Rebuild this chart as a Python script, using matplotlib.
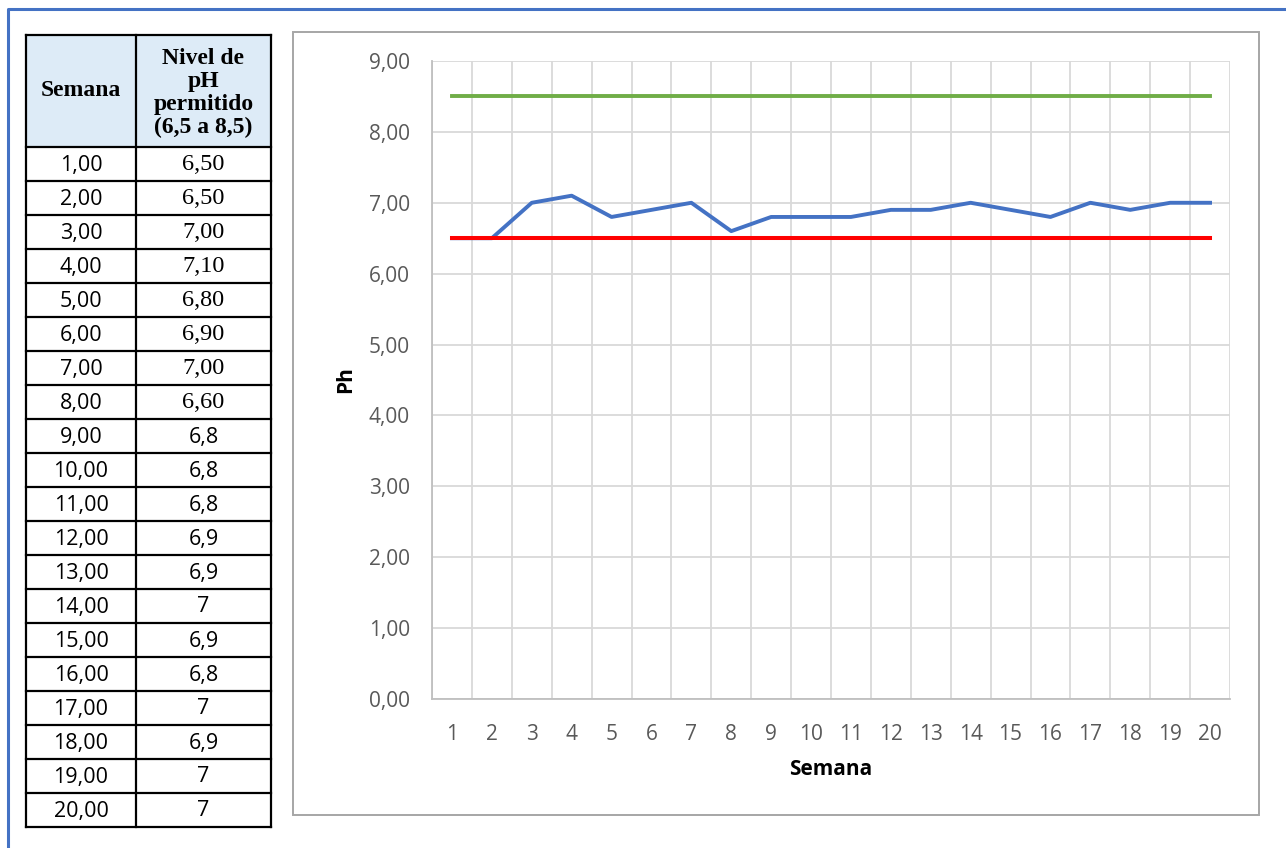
import matplotlib.pyplot as plt
from matplotlib.patches import Rectangle
from matplotlib.ticker import FuncFormatter, FixedLocator
import numpy as np

semanas = list(range(1, 21))
ph = [6.5, 6.5, 7.0, 7.1, 6.8, 6.9, 7.0, 6.6, 6.8, 6.8,
      6.8, 6.9, 6.9, 7.0, 6.9, 6.8, 7.0, 6.9, 7.0, 7.0]
limite_max = 8.5
limite_min = 6.5
filas_serif = 8  # las primeras filas de pH vienen en Times con dos decimales

sans = 'Open Sans'
serif = 'Liberation Serif'

W, H = 1286, 848
fig = plt.figure(figsize=(W / 100, H / 100), dpi=100)

# capa de fondo en pixeles para los marcos y la tabla
bg = fig.add_axes([0, 0, 1, 1])
bg.set_xlim(0, W)
bg.set_ylim(H, 0)
bg.axis('off')

# marco azul exterior
bg.plot([8, 8, W + 5], [H + 5, 9, 9], color='#4472C4', lw=2.2, solid_capstyle='butt')

# marco del grafico
bg.add_patch(Rectangle((293, 32), 1259 - 293, 815 - 32, fill=False,
                       edgecolor='#A6A6A6', lw=1.4))

# tabla
x0, xm, x1 = 26, 136, 271
y0, yh, fila = 35, 147, 34
bg.add_patch(Rectangle((x0, y0), x1 - x0, yh - y0, facecolor='#DDEBF7',
                       edgecolor='none'))
bg.text((x0 + xm) / 2, (y0 + yh) / 2, 'Semana', ha='center', va='center',
        family=serif, fontweight='bold', fontsize=17)
bg.text((xm + x1) / 2, (y0 + yh) / 2 + 2, 'Nivel de\npH\npermitido\n(6,5 a 8,5)',
        ha='center', va='center', family=serif, fontweight='bold',
        fontsize=17, linespacing=1.12)

y_fin = yh + fila * len(semanas)
for i, (s, v) in enumerate(zip(semanas, ph)):
    yc = yh + fila * i + fila / 2
    bg.text((x0 + xm) / 2, yc + 1, f'{s:.2f}'.replace('.', ','), ha='center',
            va='center', family=sans, fontsize=15.5)
    if i < filas_serif:
        bg.text((xm + x1) / 2, yc, f'{v:.2f}'.replace('.', ','), ha='center',
                va='center', family=serif, fontsize=17.5)
    else:
        bg.text((xm + x1) / 2, yc + 1, f'{v:g}'.replace('.', ','), ha='center',
                va='center', family=sans, fontsize=15.5)

for k in range(len(semanas) + 2):
    y = y0 if k == 0 else yh + fila * (k - 1)
    bg.plot([x0, x1], [y, y], color='black', lw=1.6, solid_capstyle='projecting')
for x in (x0, xm, x1):
    bg.plot([x, x], [y0, y_fin], color='black', lw=1.6, solid_capstyle='projecting')

# grafico de pH
ax = fig.add_axes([432 / W, (H - 699) / H, (1230 - 432) / W, (699 - 61) / H])
ax.plot(semanas, ph, color='#4472C4', lw=2.8, zorder=3)
ax.plot(semanas, [limite_min] * len(semanas), color='#FF0000', lw=2.9, zorder=4)
ax.plot(semanas, [limite_max] * len(semanas), color='#70AD47', lw=2.8, zorder=4)

ax.set_xlim(0.5, len(semanas) + 0.5)
ax.set_ylim(0, 9)
ax.set_yticks(np.arange(0, 10, 1))
ax.yaxis.set_major_formatter(FuncFormatter(lambda v, p: f'{v:.2f}'.replace('.', ',')))
ax.set_xticks(semanas)
ax.xaxis.set_minor_locator(FixedLocator(np.arange(0.5, len(semanas) + 1, 1)))
ax.grid(axis='y', which='major', color='#D9D9D9', lw=1.3)
ax.grid(axis='x', which='minor', color='#D9D9D9', lw=1.3)
ax.set_axisbelow(True)

for lado in ('top', 'right'):
    ax.spines[lado].set_visible(False)
ax.spines['left'].set_color('#BFBFBF')
ax.spines['bottom'].set_color('#BFBFBF')
ax.spines['left'].set_linewidth(1.3)
ax.spines['bottom'].set_linewidth(1.3)

ax.tick_params(axis='both', which='both', length=0, colors='#595959',
               labelsize=15)
ax.tick_params(axis='y', pad=16)
ax.tick_params(axis='x', pad=18)
for t in ax.get_xticklabels() + ax.get_yticklabels():
    t.set_family(sans)

ax.set_xlabel('Semana', family=sans, fontweight='bold', fontsize=15,
              labelpad=10)
ax.set_ylabel('Ph', family=sans, fontweight='bold', fontsize=15,
              labelpad=9)

fig.savefig('out.png', dpi=100)
